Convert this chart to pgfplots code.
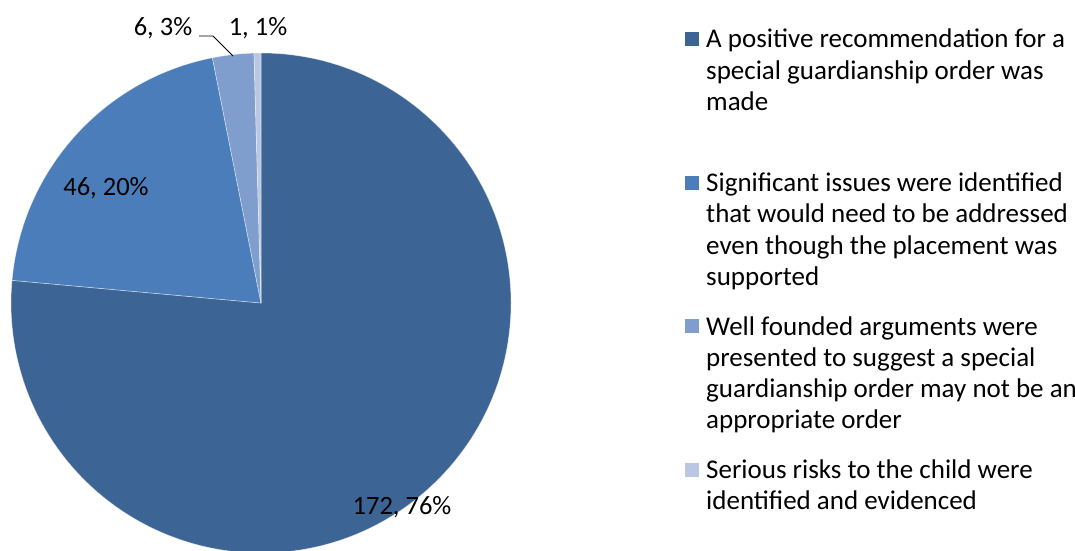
\documentclass[border=0pt]{standalone}
\usepackage{pgfplots}
\pgfplotsset{compat=1.18}
\usepackage{pgfplotstable}
\usepackage{fontspec}
\setmainfont{Carlito}
\definecolor{cA}{RGB}{60,100,149}
\definecolor{cB}{RGB}{74,125,186}
\definecolor{cC}{RGB}{127,158,206}
\definecolor{cD}{RGB}{185,199,227}
\pgfplotstableread{
n col
172 cA
46 cB
6 cC
1 cD
}\piedata
\newcommand\leg[1]{\begin{tabular}[t]{@{}l@{}}#1\end{tabular}}
\begin{document}
\begin{tikzpicture}[x=1pt,y=1pt]
\useasboundingbox (0,0) rectangle (1075,550);
\begin{axis}[hide axis, scale only axis, width=500pt, height=500pt,
  xmin=-250, xmax=250, ymin=-250, ymax=250, clip=false,
  at={(261pt,247pt)}, anchor=center]
\pgfplotstablegetrowsof{\piedata}
\pgfmathtruncatemacro{\nrows}{\pgfplotsretval-1}
\def\cum{90}
\pgfplotsforeachungrouped \i in {0,...,\nrows}{%
  \pgfplotstablegetelem{\i}{n}\of{\piedata}%
  \let\val\pgfplotsretval
  \pgfplotstablegetelem{\i}{col}\of{\piedata}%
  \let\col\pgfplotsretval
  \pgfmathsetmacro{\endang}{\cum-\val/225*360}%
  \pgfmathsetmacro{\sx}{250*cos(\cum)}%
  \pgfmathsetmacro{\sy}{250*sin(\cum)}%
  \edef\temp{\noexpand\fill[\col, draw=white, draw opacity=0.5, line width=0.6pt] (axis cs:0,0) -- (axis cs:\sx,\sy) arc[start angle=\cum, end angle=\endang, radius=250pt] -- cycle;}%
  \temp
  \global\let\cum\endang
}
\node[font=\fontsize{26.5}{30}\selectfont] at (axis cs:141,-204) {172, 76\%};
\node[font=\fontsize{26.5}{30}\selectfont] at (axis cs:-155,115) {46, 20\%};
\node[font=\fontsize{26.5}{30}\selectfont] at (axis cs:-98,275) {6, 3\%};
\node[font=\fontsize{26.5}{30}\selectfont] at (axis cs:-3,275) {1, 1\%};
\draw[black, line width=0.8pt] (axis cs:-62,267) -- (axis cs:-48,267) -- (axis cs:-28,247);
\end{axis}
\begin{scope}[every node/.style={font=\fontsize{27}{31.3}\selectfont, anchor=base west, inner sep=0pt}]
\fill[cA] (685,504) rectangle (699,518);
\node at (706,502) {\leg{A positive recommendation for a\\special guardianship order was\\made}};
\fill[cB] (685,360.5) rectangle (699,374.5);
\node at (706,358.5) {\leg{Significant issues were identified\\that would need to be addressed\\even though the placement was\\supported}};
\fill[cC] (685,217) rectangle (699,231);
\node at (706,215) {\leg{Well founded arguments were\\presented to suggest a special\\guardianship order may not be an\\appropriate order}};
\fill[cD] (685,73.5) rectangle (699,87.5);
\node at (706,71.5) {\leg{Serious risks to the child were\\identified and evidenced}};
\end{scope}
\end{tikzpicture}
\end{document}
